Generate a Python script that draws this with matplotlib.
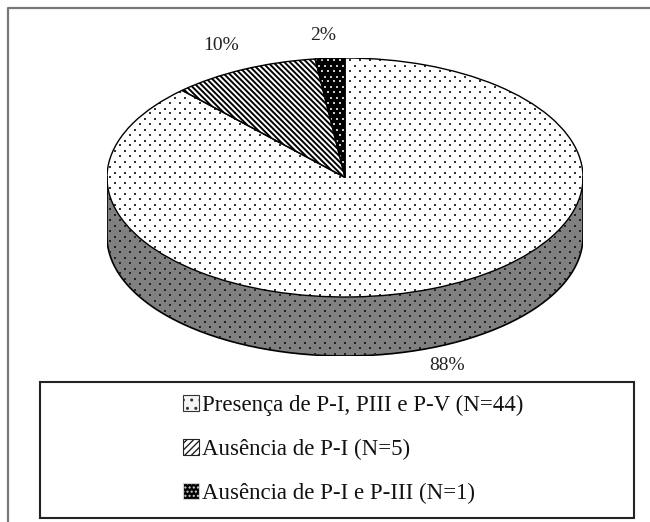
import numpy as np
import matplotlib
matplotlib.use("Agg")
import matplotlib.pyplot as plt
from matplotlib.patches import Rectangle, Patch, Wedge

plt.rcParams['font.family'] = ['Liberation Serif', 'DejaVu Serif']

values = [88, 10, 2]
pct_labels = ['88%', '10%', '2%']
legend_labels = ['Presença de P-I, PIII e P-V (N=44)',
                 'Ausência de P-I (N=5)',
                 'Ausência de P-I e P-III (N=1)']

W, H = 650, 522
fig = plt.figure(figsize=(W/100, H/100), dpi=100, facecolor='white')

# full figure axes in pixels, for the frame and the legend box
bg = fig.add_axes([0, 0, 1, 1])
bg.set_xlim(0, W)
bg.set_ylim(H, 0)
bg.axis('off')
bg.plot([8, 8, W], [H, 8, 8], color='#777777', lw=1.6)
bg.add_patch(Rectangle((39.5, 382), 594, 136, fc='white', ec='#222222', lw=1.5))

# pie axes cover the top ellipse plus the wall under it
left, right, top, bottom = 107, 583, 58, 356
depth = 2*(bottom-top)/(297-top) - 2
ax = fig.add_axes([left/W, 1-bottom/H, (right-left)/W, (bottom-top)/H])

t = np.linspace(np.pi, 2*np.pi, 200)
wall = ax.fill_between(np.cos(t), np.sin(t)-depth, np.sin(t), facecolor='#808080', lw=0)
ax.plot(np.cos(t), np.sin(t)-depth, color='black', lw=1.2)
ax.plot([1, 1], [0, -depth], color='black', lw=1.2)
ax.plot([-1, -1], [0, -depth], color='black', lw=1.2)

wedges, _ = ax.pie(values, startangle=90, counterclock=False, radius=1)
wedges[0].set(facecolor='white', lw=0)
wedges[2].set(facecolor='black', lw=0)
wedges[1].set(facecolor='white', lw=0)

ax.set_aspect('auto')
ax.set_xlim(-1, 1)
ax.set_ylim(-1-depth, 1)

# stripes of the 10% slice, hatch width is read when the patch is made
with plt.rc_context({'hatch.linewidth': 1.4}):
    ax.add_patch(Wedge(wedges[1].center, wedges[1].r, wedges[1].theta1, wedges[1].theta2,
                       fc='white', ec='black', hatch='\\' * 6, lw=0))

# dot texture, same overlay in pixels, clipped to each shape
over = fig.add_axes([0, 0, 1, 1])
over.set_xlim(0, W)
over.set_ylim(H, 0)
over.axis('off')

def dot_grid(step_x, step_y):
    xs, ys = [], []
    for i, y in enumerate(np.arange(50, 365, step_y)):
        x = np.arange(100, 590, step_x) + (step_x/2 if i % 2 else 0)
        xs.append(x)
        ys.append(np.full_like(x, y))
    return np.concatenate(xs), np.concatenate(ys)

dx, dy = dot_grid(10, 5.33)
d0 = over.scatter(dx, dy, s=2.6, marker='s', color='#333333', lw=0)
d0.set_clip_path(wedges[0])
d1 = over.scatter(dx, dy, s=2.6, marker='s', color='#222222', lw=0)
d1.set_clip_path(wall.get_paths()[0], ax.transData)
dx2, dy2 = dot_grid(6, 5.33)
d2 = over.scatter(dx2, dy2, s=3, marker='s', color='#c8c8c8', lw=0)
d2.set_clip_path(wedges[2])

# outlines on top of the textures
ax.set_zorder(2)
over.set_zorder(3)
outline = fig.add_axes(ax.get_position())
outline.set_xlim(-1, 1)
outline.set_ylim(-1-depth, 1)
outline.axis('off')
outline.set_zorder(4)
for w in wedges:
    outline.add_patch(Wedge(w.center, w.r, w.theta1, w.theta2, fill=False, ec='black', lw=1.0))

# percent labels, placed around the pie
for lab, xy in zip(pct_labels, [(447, 366), (221, 45), (323, 35)]):
    over.text(xy[0], xy[1], lab, ha='center', va='center', fontsize=14, color='#222222')

with plt.rc_context({'hatch.linewidth': 0.5}):
    h0 = Patch(facecolor='#f4f4f4', edgecolor='#333333', hatch='..', lw=0.8)
    h2 = Patch(facecolor='black', edgecolor='#d0d0d0', hatch='....', lw=0.8)
with plt.rc_context({'hatch.linewidth': 1.4}):
    h1 = Patch(facecolor='white', edgecolor='#222222', hatch='/' * 5, lw=0.8)
leg = over.legend([h0, h1, h2], legend_labels, loc='upper left', bbox_to_anchor=(183/W, 1-395/H),
                  bbox_transform=fig.transFigure, frameon=False, fontsize=16.5, labelcolor='#111111',
                  handlelength=0.7, handleheight=0.7, handletextpad=0.14, labelspacing=1.0,
                  borderpad=0, borderaxespad=0)

fig.savefig('out.png', dpi=100)
